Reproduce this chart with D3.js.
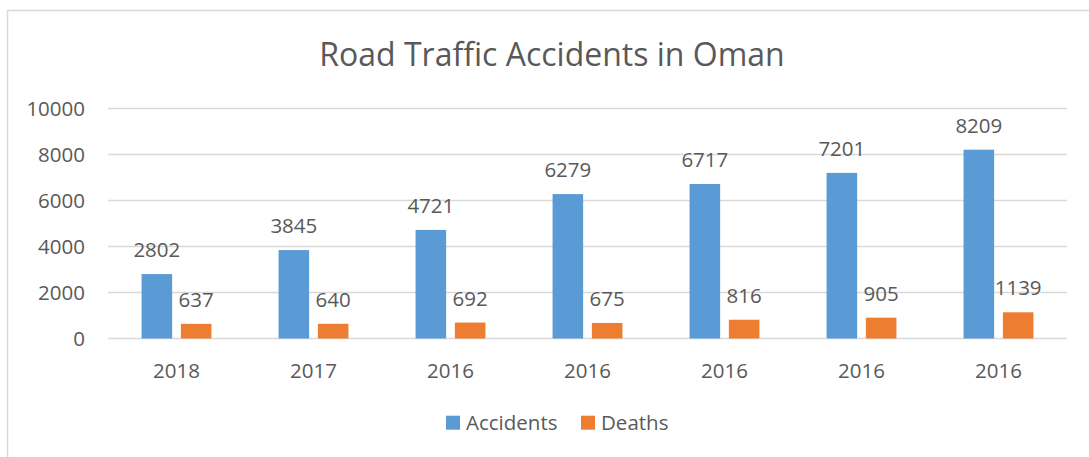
<!DOCTYPE html>
<html>
<head>
<meta charset="utf-8">
<script src="https://cdn.jsdelivr.net/npm/d3@7"></script>
<style>
  html, body { margin: 0; padding: 0; background: #fff; }
  svg { display: block; }
  text { font-family: "Open Sans", sans-serif; fill: #595959; }
</style>
</head>
<body>
<svg id="chart" width="1089" height="457"></svg>
<script>
const title = "Road Traffic Accidents in Oman";
const categories = ["2018", "2017", "2016", "2016", "2016", "2016", "2016"];
const accidents = [2802, 3845, 4721, 6279, 6717, 7201, 8209];
const deaths = [637, 640, 692, 675, 816, 905, 1139];
const seriesNames = ["Accidents", "Deaths"];
const yTicks = [0, 2000, 4000, 6000, 8000, 10000];

const colors = ["#5b9bd5", "#ed7d31"];
const svg = d3.select("#chart");

// chart area border
svg.append("rect")
  .attr("x", 7.5).attr("y", 10.5)
  .attr("width", 1100).attr("height", 460)
  .attr("fill", "none").attr("stroke", "#d9d9d9").attr("stroke-width", 1.5);

const plotL = 108, plotR = 1067, plotT = 108.5, plotB = 338.5;

const idx = categories.map((d, i) => i);
const x = d3.scaleBand().domain(idx).range([plotL, plotR]).paddingInner(0.49).paddingOuter(0.245);
const xs = d3.scaleBand().domain([0, 1]).range([0, x.bandwidth()]).paddingInner(0.222);
const y = d3.scaleLinear().domain([0, 10000]).range([plotB, plotT]);

// gridlines
svg.append("g").selectAll("line").data(yTicks).join("line")
  .attr("x1", plotL).attr("x2", plotR)
  .attr("y1", d => y(d)).attr("y2", d => y(d))
  .attr("stroke", "#d9d9d9").attr("stroke-width", 1.5);

// y axis labels
const yAxis = d3.axisLeft(y).tickValues(yTicks).tickSize(0).tickPadding(0).tickFormat(d3.format("d"));
const yg = svg.append("g").attr("transform", `translate(85,0)`).call(yAxis);
yg.select(".domain").remove();
yg.selectAll("text").attr("font-size", "20.5px").attr("fill", "#595959")
  .style("font-family", "'Open Sans', sans-serif").attr("dy", "0.36em");

// x axis labels
const xAxis = d3.axisBottom(x).tickSize(0).tickPadding(0).tickFormat(i => categories[i]);
const xg = svg.append("g").attr("transform", `translate(0,${plotB})`).call(xAxis);
xg.select(".domain").remove();
xg.selectAll("text").attr("font-size", "20.5px").attr("fill", "#595959")
  .style("font-family", "'Open Sans', sans-serif").attr("y", 0).attr("dy", 0)
  .attr("transform", "translate(0,39)");

const series = [accidents, deaths];
series.forEach((vals, s) => {
  const g = svg.append("g");
  g.selectAll("rect").data(vals).join("rect")
    .attr("x", (d, i) => x(i) + xs(s))
    .attr("width", xs.bandwidth())
    .attr("y", d => y(d))
    .attr("height", d => plotB - y(d))
    .attr("fill", colors[s]);
  g.selectAll("text").data(vals).join("text")
    .attr("x", (d, i) => x(i) + xs(s) + xs.bandwidth() / 2)
    .attr("y", d => y(d) - 17)
    .attr("text-anchor", "middle")
    .attr("font-size", "20.5px")
    .text(d => d);
});

// title
svg.append("text").attr("x", 552).attr("y", 66).attr("text-anchor", "middle")
  .attr("font-size", "32px").text(title);

// legend
const legendItems = [{x: 446, name: seriesNames[0], c: colors[0]}, {x: 581, name: seriesNames[1], c: colors[1]}];
const lg = svg.append("g").selectAll("g").data(legendItems).join("g");
lg.append("rect").attr("x", d => d.x).attr("y", 415.7).attr("width", 14).attr("height", 14).attr("fill", d => d.c);
lg.append("text").attr("x", d => d.x + 20).attr("y", 430).attr("font-size", "20.5px").text(d => d.name);
</script>
</body>
</html>
